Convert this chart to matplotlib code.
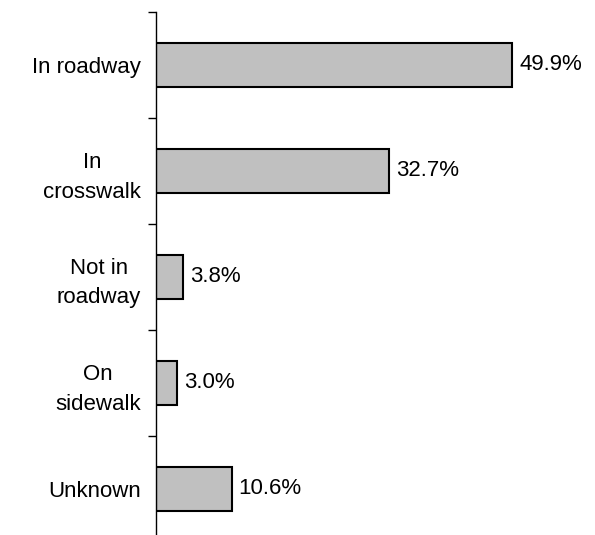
import numpy as np
import matplotlib.pyplot as plt

plt.rcParams['font.family'] = ['Liberation Sans', 'DejaVu Sans']

categories = ['In roadway', 'In\ncrosswalk', 'Not in\nroadway', 'On\nsidewalk', 'Unknown']
values = [49.9, 32.7, 3.8, 3.0, 10.6]
labels = ['49.9%', '32.7%', '3.8%', '3.0%', '10.6%']

fig = plt.figure(figsize=(5.95, 5.35), dpi=100)
ax = fig.add_axes([156 / 595, -7 / 535, 428 / 595, 530 / 535])

y = np.arange(len(categories))
ax.barh(y, values, height=0.41, color='#c0c0c0', edgecolor='black', linewidth=1.5)

for yi, v, lab in zip(y, values, labels):
    ax.text(v + 1.0, yi, lab, va='center', ha='left', fontsize=16)

ax.set_xlim(0, 60)
ax.set_ylim(len(categories) - 0.5, -0.5)

ax.set_yticks(y)
ax.set_yticklabels(categories, fontsize=16, multialignment='center', linespacing=1.5)
ax.set_yticks(np.arange(len(categories) + 1) - 0.5, minor=True)
ax.tick_params(axis='y', which='major', length=0, pad=11)
ax.tick_params(axis='y', which='minor', length=6, width=1, color='black', direction='out')
ax.set_xticks([])

for s in ['top', 'right', 'bottom']:
    ax.spines[s].set_visible(False)
ax.spines['left'].set_linewidth(1)

fig.savefig('out.png', dpi=100)
